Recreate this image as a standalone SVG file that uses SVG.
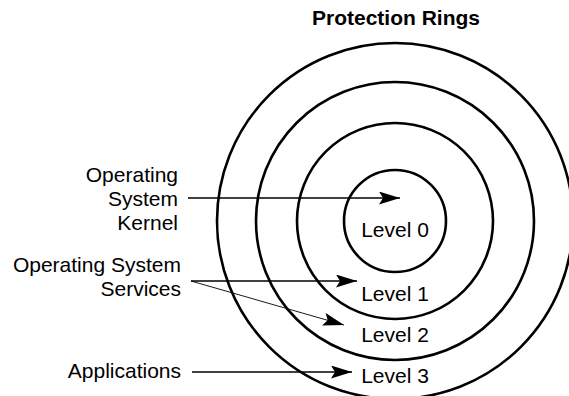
<svg xmlns="http://www.w3.org/2000/svg" width="569" height="396" viewBox="0 0 569 396">
<style>
.ring{fill:none;stroke:#000;stroke-width:2.6}
.t{font-family:"Liberation Sans",Arial,sans-serif;font-size:21px;fill:#000}
.title{font-family:"Liberation Sans",Arial,sans-serif;font-size:21px;font-weight:bold;fill:#000}
.c{fill:none;stroke:#000;stroke-width:1.4}
.thin{stroke-width:0.9}
</style>
<defs>
<marker id="ah" markerUnits="userSpaceOnUse" markerWidth="22" markerHeight="14" refX="21" refY="6.5" orient="auto">
<path d="M0,0 L21,6.5 L0,13 L4,6.5 z" fill="#000"/>
</marker>
</defs>
<rect width="569" height="396" fill="#fff"/>
<text class="title" x="396" y="25" text-anchor="middle">Protection Rings</text>
<g id="ring3"><circle class="ring" cx="395" cy="221" r="178"/><text class="t" x="395" y="383" text-anchor="middle">Level 3</text></g>
<g id="ring2"><circle class="ring" cx="395" cy="221" r="139"/><text class="t" x="395" y="342" text-anchor="middle">Level 2</text></g>
<g id="ring1"><circle class="ring" cx="395" cy="221" r="98"/><text class="t" x="395" y="301" text-anchor="middle">Level 1</text></g>
<g id="ring0"><circle class="ring" cx="395" cy="221" r="51"/><text class="t" x="395" y="237" text-anchor="middle">Level 0</text></g>
<g id="kernel"><text class="t" text-anchor="end"><tspan x="178" y="182">Operating</tspan><tspan x="178" y="206">System</tspan><tspan x="178" y="230">Kernel</tspan></text></g>
<g id="services"><text class="t" text-anchor="end"><tspan x="181" y="272">Operating System</tspan><tspan x="181" y="296">Services</tspan></text></g>
<g id="apps"><text class="t" x="181" y="378" text-anchor="end">Applications</text></g>
<g id="connectors">
<line class="c" x1="188" y1="198" x2="400" y2="198" marker-end="url(#ah)"/>
<line class="c" x1="191" y1="281" x2="357" y2="281" marker-end="url(#ah)"/>
<line class="c thin" x1="191" y1="281" x2="344" y2="325" marker-end="url(#ah)"/>
<line class="c" x1="192" y1="372" x2="352" y2="372" marker-end="url(#ah)"/>
</g>
</svg>
